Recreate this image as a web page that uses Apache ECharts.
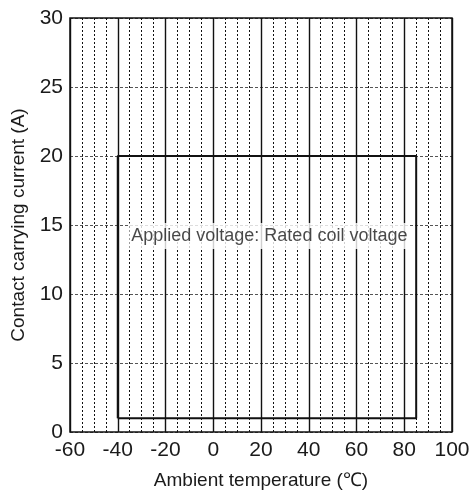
<!DOCTYPE html>
<html>
<head>
<meta charset="utf-8">
<script src="https://cdn.jsdelivr.net/npm/echarts@6/dist/echarts.min.js"></script>
<style>html,body{margin:0;padding:0;background:#fff}#c{width:472px;height:493px}</style>
</head>
<body>
<div id="c"></div>
<script>
// Data
const xTicks = [-60, -40, -20, 0, 20, 40, 60, 80, 100];
const yTicks = [0, 5, 10, 15, 20, 25, 30];
const boundaryTemp = [-40, -40, 85, 85, -40];
const boundaryCurrent = [1, 20, 20, 1, 1];
const noteText = 'Applied voltage: Rated coil voltage';
const notePos = [23.5, 14.2];
const xName = 'Ambient temperature (\u2103)';
const yName = 'Contact carrying current (A)';

const chart = echarts.init(document.getElementById('c'), null, {renderer: 'canvas'});
const font = 'Arial, "Liberation Sans", sans-serif';
const txt = '#1a1a1a';
chart.setOption({
  animation: false,
  backgroundColor: '#fff',
  grid: {left: 70, right: 20, top: 18, bottom: 61, containLabel: false, outerBoundsMode: 'none',
    show: true, borderColor: '#111', borderWidth: 1.5, backgroundColor: 'transparent', z: 5},
  xAxis: {
    type: 'value', min: xTicks[0], max: xTicks[xTicks.length - 1], interval: 20,
    name: xName, nameLocation: 'middle', nameGap: 39,
    nameTextStyle: {fontFamily: font, fontSize: 19, color: txt},
    axisLine: {show: false}, axisTick: {show: false},
    axisLabel: {fontFamily: font, fontSize: 21, color: txt, margin: 8},
    splitLine: {show: true, lineStyle: {color: '#111', width: 1.4, type: 'solid'}},
    minorTick: {show: false, splitNumber: 4},
    minorSplitLine: {show: true, lineStyle: {color: '#111', width: 1, type: [2, 2]}}
  },
  yAxis: {
    type: 'value', min: yTicks[0], max: yTicks[yTicks.length - 1], interval: 5,
    name: yName, nameLocation: 'middle', nameGap: 42,
    nameTextStyle: {fontFamily: font, fontSize: 19, color: txt},
    axisLine: {show: false}, axisTick: {show: false},
    axisLabel: {fontFamily: font, fontSize: 21, color: txt, margin: 7},
    splitLine: {show: true, lineStyle: {color: '#555', width: 1, type: [3, 2]}}
  },
  series: [{
    type: 'line', data: boundaryTemp.map((t, i) => [t, boundaryCurrent[i]]),
    symbol: 'none', lineStyle: {color: '#111', width: 2}, z: 6
  }, {
    type: 'scatter', data: [notePos], symbolSize: 0, z: 7,
    label: {show: true, position: 'inside', formatter: noteText, fontFamily: font, fontSize: 18, color: txt,
      backgroundColor: '#fff', padding: [4, 2]}
  }]
});
</script>
</body>
</html>
